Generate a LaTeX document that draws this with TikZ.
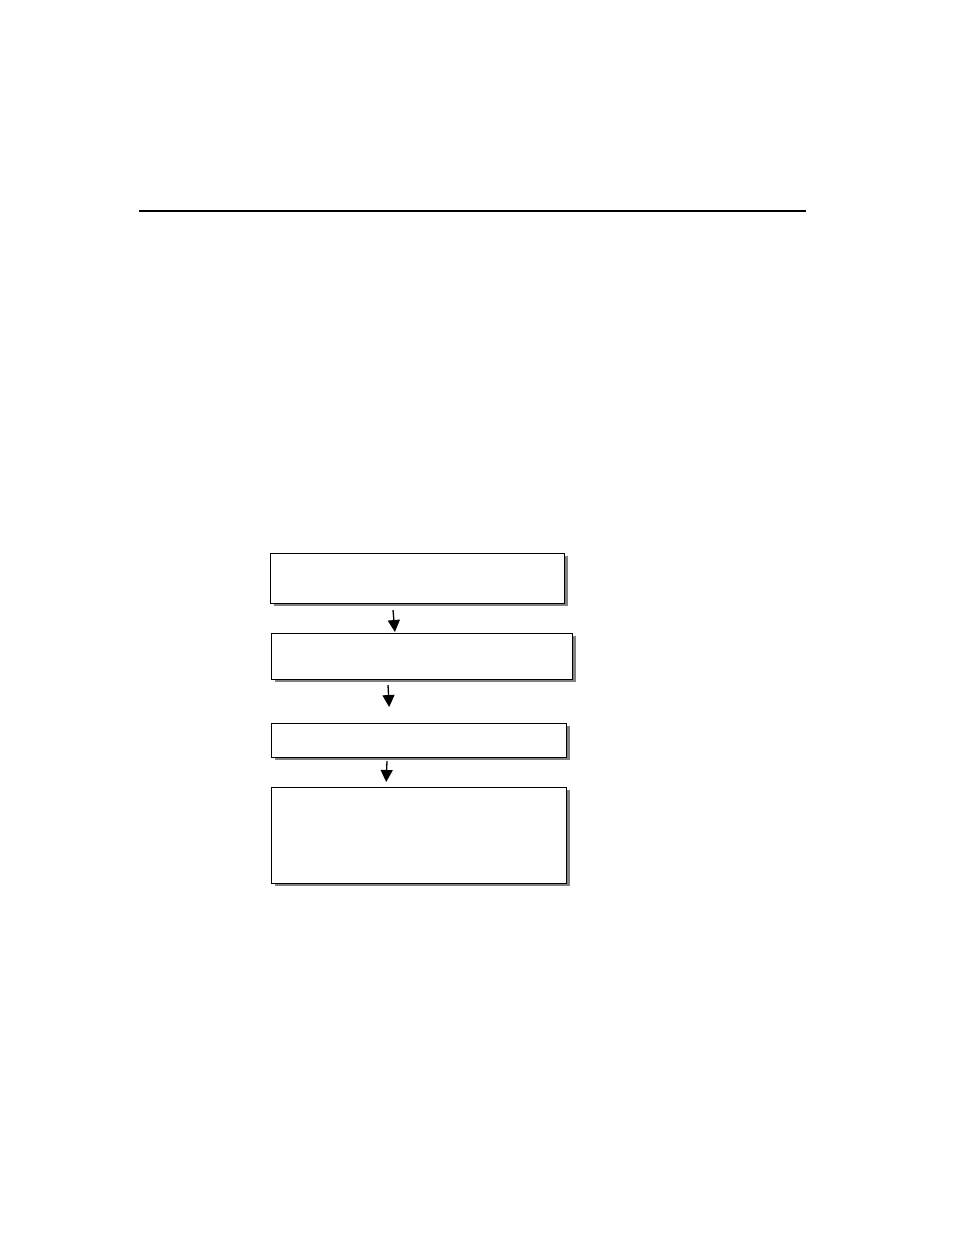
\documentclass[tikz,border=0pt]{standalone}
\usetikzlibrary{shadows,arrows.meta,calc}
\begin{document}
\begin{tikzpicture}[x=1pt,y=-1pt,
  flowbox/.style={draw=black,line width=1.3pt,fill=white,inner sep=0pt,anchor=north west,
    drop shadow={shadow xshift=3.5pt,shadow yshift=-2.5pt,fill=black!50,opacity=1}},
  arr/.style={line width=1.3pt,-{Triangle[length=12pt,width=12pt]}}]
\useasboundingbox (0,0) rectangle (954,1235);
\coordinate (rl) at (139,211);
\coordinate (rr) at (806,211);
\draw[line width=1.3pt] (rl) -- (rr);
\node[flowbox,minimum width=294pt,minimum height=50pt] (b1) at (270,553) {};
\node[flowbox,minimum width=301pt,minimum height=46pt] (b2) at (271,633) {};
\node[flowbox,minimum width=295pt,minimum height=34pt] (b3) at (271,723) {};
\node[flowbox,minimum width=295pt,minimum height=96pt] (b4) at (271,787) {};
\coordinate (s1) at (393,610);
\coordinate (s2) at (388,685);
\coordinate (s3) at (387,761);
\draw[arr,shorten >=1pt] (s1) -- ([xshift=124pt]b2.north west);
\draw[arr,shorten >=16pt] (s2) -- ([xshift=119pt]b3.north west);
\draw[arr,shorten >=5pt] (s3) -- ([xshift=115pt]b4.north west);
\end{tikzpicture}
\end{document}
